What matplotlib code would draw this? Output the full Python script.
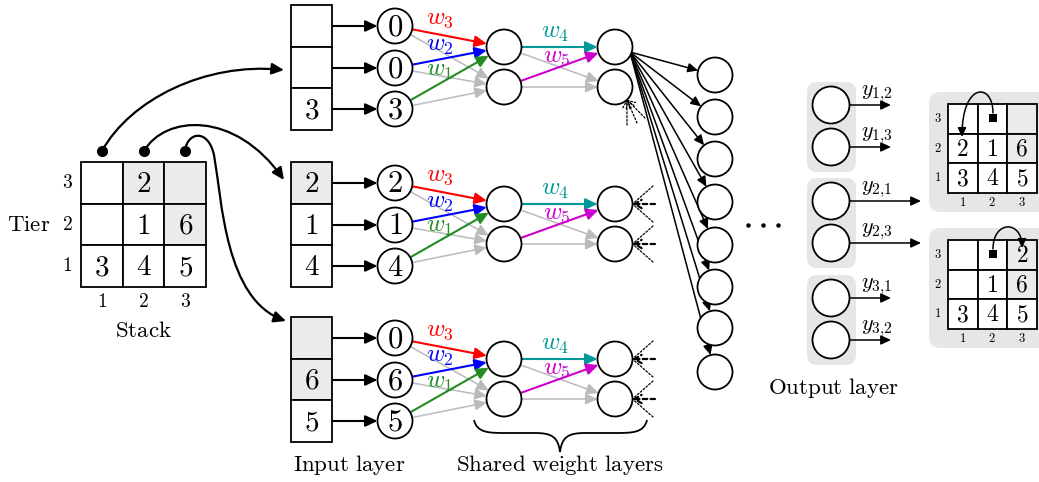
import numpy as np
import matplotlib
matplotlib.use('Agg')
import matplotlib.pyplot as plt
from matplotlib.patches import Circle, Rectangle, FancyArrowPatch, FancyBboxPatch, PathPatch
from matplotlib.path import Path

plt.rcParams['mathtext.fontset'] = 'cm'
plt.rcParams['font.family'] = ['DejaVu Serif']

# ---- data ----
# stack grid, rows = tier 3..1, cols = stack 1..3
stack_values = [[None, 2, None], [None, 1, 6], [3, 4, 5]]
stack_grey = [[0, 1, 1], [0, 0, 1], [0, 0, 0]]
tier_labels = ['3', '2', '1']
stack_labels = ['1', '2', '3']

# one input column per stack (top to bottom)
input_cells = [[None, None, 3], [2, 1, 4], [None, 6, 5]]
input_grey = [[0, 0, 0], [1, 0, 0], [1, 1, 0]]
input_nodes = [[0, 0, 3], [2, 1, 4], [0, 6, 5]]

in_weights = ['w_3', 'w_2', 'w_1']
in_colors = ['#ff0000', '#0000ff', '#228b22']
hid_weights = ['w_4', 'w_5']
hid_colors = ['#009999', '#cc00cc']
n_hidden_out = 8

output_labels = [['y_{1{,}2}', 'y_{1{,}3}'], ['y_{2{,}1}', 'y_{2{,}3}'], ['y_{3{,}1}', 'y_{3{,}2}']]
long_arrow = [[0, 0], [1, 1], [0, 0]]

after1_values = [[None, None, None], [2, 1, 6], [3, 4, 5]]
after1_grey = [[0, 0, 1], [0, 0, 1], [0, 0, 0]]
after2_values = [[None, None, 2], [None, 1, 6], [3, 4, 5]]
after2_grey = [[0, 0, 1], [0, 0, 1], [0, 0, 0]]

GREY = '#ebebeb'
LGREY = '#bbbbbb'
R = 17.5

fig = plt.figure(figsize=(10.39, 4.82), dpi=100)
ax = fig.add_axes([0, 0, 1, 1])
ax.set_xlim(0, 1039)
ax.set_ylim(482, 0)
ax.axis('off')


def tex(s):
  return '$' + s + '$'


def arrow(p0, p1, color='black', lw=1.3, ms=12, style='-|>,head_length=0.6,head_width=0.28', ls='-', z=2):
  ax.add_patch(FancyArrowPatch(p0, p1, arrowstyle=style, mutation_scale=ms, color=color,
                               lw=lw, linestyle=ls, shrinkA=0, shrinkB=0, zorder=z))


def edge(c0, c1, r0=R, r1=R, **kw):
  c0 = np.array(c0, float)
  c1 = np.array(c1, float)
  u = (c1 - c0) / np.hypot(*(c1 - c0))
  arrow(c0 + u * r0, c1 - u * r1, **kw)


def node(c, label=None, r=R, fs=22):
  ax.add_patch(Circle(c, r, facecolor='white', edgecolor='black', lw=1.3, zorder=4))
  if label is not None:
    ax.text(c[0], c[1] + 1, tex(str(label)), fontsize=fs, ha='center', va='center', zorder=5)


def grid(x0, y0, cell, values, grey, fs):
  for i in range(3):
    for j in range(3):
      fc = GREY if grey[i][j] else 'white'
      ax.add_patch(Rectangle((x0 + j * cell, y0 + i * cell), cell, cell, facecolor=fc,
                             edgecolor='black', lw=1.3, zorder=3))
      if values[i][j] is not None:
        ax.text(x0 + (j + 0.5) * cell, y0 + (i + 0.5) * cell + 1, tex(str(values[i][j])),
                fontsize=fs, ha='center', va='center', zorder=5)


# ---- stack grid ----
gx, gy, gc = 81, 162, 41.7
grid(gx, gy, gc, stack_values, stack_grey, 21)
for i, t in enumerate(tier_labels):
  ax.text(67, gy + (i + 0.5) * gc, tex(t), fontsize=14, ha='center', va='center')
for j, s in enumerate(stack_labels):
  ax.text(gx + (j + 0.5) * gc, 302, tex(s), fontsize=14, ha='center', va='center')
ax.text(29, gy + 1.5 * gc, tex(r'\mathrm{Tier}'), fontsize=16.5, ha='center', va='center')
ax.text(gx + 1.5 * gc, 331, tex(r'\mathrm{Stack}'), fontsize=16.5, ha='center', va='center')
dots_x = [gx + (j + 0.5) * gc for j in range(3)]
ax.plot(dots_x, [151] * 3, 'o', color='black', ms=7, zorder=6)

# curved arrows from the stacks to the input columns
curves = [
  [(102, 151), (130, 100), (205, 62), (284, 70)],
  [(144, 151), (165, 115), (235, 110), (284, 180)],
  [(185, 151), (187, 132), (208, 128), (214, 155), (222, 200), (225, 300), (286, 321)],
]
for v in curves:
  codes = [Path.MOVETO] + [Path.CURVE4] * (len(v) - 1)
  ax.add_patch(FancyArrowPatch(path=Path(v, codes), arrowstyle='-|>,head_length=0.6,head_width=0.28',
                               mutation_scale=12, color='black', lw=1.6, zorder=2))

# ---- input columns + shared layers ----
offsets = [0, 157, 312]
bx, bw, bh = 291, 41, 41.7
xin, xh1, xh2 = 395, 504, 615
in_y = [26, 68, 109]
hid_y = [47, 87]
for k, off in enumerate(offsets):
  top = 5 + off
  for i in range(3):
    fc = GREY if input_grey[k][i] else 'white'
    ax.add_patch(Rectangle((bx, top + i * bh), bw, bh, facecolor=fc, edgecolor='black', lw=1.3, zorder=3))
    if input_cells[k][i] is not None:
      ax.text(bx + bw / 2, top + (i + 0.5) * bh + 1, tex(str(input_cells[k][i])), fontsize=21,
              ha='center', va='center', zorder=5)
    yy = in_y[i] + off
    arrow((bx + bw, yy), (xin - R, yy), lw=1.5)
    node((xin, yy), input_nodes[k][i])
  h1 = [(xh1, y + off) for y in hid_y]
  h2 = [(xh2, y + off) for y in hid_y]
  for i in range(3):
    src = (xin, in_y[i] + off)
    edge(src, h1[1], color=LGREY, lw=1.1, z=1)
  for i in range(3):
    src = (xin, in_y[i] + off)
    edge(src, h1[0], color=in_colors[i], lw=1.5, z=2)
  edge(h1[0], h2[1], color=LGREY, lw=1.1, z=1)
  edge(h1[1], h2[1], color=LGREY, lw=1.1, z=1)
  edge(h1[0], h2[0], color=hid_colors[0], lw=1.5, z=2)
  edge(h1[1], h2[0], color=hid_colors[1], lw=1.5, z=2)
  for c in h1 + h2:
    node(c)
  for i, (lx, ly) in enumerate([(440, 18), (440, 45), (440, 70)]):
    ax.text(lx, ly + off, tex(in_weights[i]), fontsize=18, color=in_colors[i], ha='center', va='center', zorder=6)
  for i, (lx, ly) in enumerate([(555, 32), (557, 56)]):
    ax.text(lx, ly + off, tex(hid_weights[i]), fontsize=18, color=hid_colors[i], ha='center', va='center', zorder=6)

# incoming dashed connections at the second shared layer
open_head = '->,head_length=0.5,head_width=0.3'
tip = (615 + R * 0.68, 87 + R * 0.72)
for end in [(627, 125), (637, 123), (645, 118)]:
  arrow(end, tip, lw=0.9, ls=(0, (1.5, 1.5)), style=open_head, ms=10, z=3)
for off in offsets[1:]:
  for y in hid_y:
    yy = y + off
    t = (xh2 + R, yy)
    arrow((655, yy), t, lw=1.6, ls=(0, (2, 1.5)), style=open_head, ms=10, z=3)
    arrow((653, yy - 18), t, lw=0.9, ls=(0, (1.5, 1.5)), style='-', z=3)
    arrow((653, yy + 18), t, lw=0.9, ls=(0, (1.5, 1.5)), style='-', z=3)

# fan to the next layer (all leaving from the right side of the top node)
xf = 715
fan_y = [75, 117, 159, 202, 245, 287, 328, 372]
fan_src = np.array([xh2 + 15, 47 + 5], float)
for y in fan_y[:n_hidden_out]:
  c1 = np.array([xf, y], float)
  u = (c1 - fan_src) / np.hypot(*(c1 - fan_src))
  arrow(tuple(fan_src + u * 2), tuple(c1 - u * R), lw=1.1, ms=10)
  node((xf, y))
ax.plot([748, 763, 778], [225, 225, 225], 'o', color='black', ms=2.2)

# brace under shared layers
x0, x1, yt, ym, xt, ytip = 474, 647, 420, 433, 560, 452
bv = [(x0, yt), (x0 + 3, ym), (x0 + 15, ym), (x0 + 32, ym),
      (xt - 25, ym),
      (xt - 8, ym), (xt - 2, ym + 4), (xt, ytip),
      (xt + 2, ym + 4), (xt + 8, ym), (xt + 25, ym),
      (x1 - 32, ym),
      (x1 - 15, ym), (x1 - 3, ym), (x1, yt)]
bc = [Path.MOVETO, Path.CURVE4, Path.CURVE4, Path.CURVE4, Path.LINETO,
      Path.CURVE4, Path.CURVE4, Path.CURVE4, Path.CURVE4, Path.CURVE4, Path.CURVE4,
      Path.LINETO, Path.CURVE4, Path.CURVE4, Path.CURVE4]
ax.add_patch(PathPatch(Path(bv, bc), fill=False, lw=1.3, edgecolor='black'))
ax.text(349, 465, tex(r'\mathrm{Input\ layer}'), fontsize=16.5, ha='center', va='center')
ax.text(560, 465, tex(r'\mathrm{Shared\ weight\ layers}'), fontsize=16.5, ha='center', va='center')

# ---- output layer ----
xo, ro = 831, 18.5
out_y = [[105, 147], [201, 243], [298, 340]]
boxes = [(82, 172), (178, 268), (275, 365)]
for g in range(3):
  b0, b1 = boxes[g]
  ax.add_patch(FancyBboxPatch((807, b0), 49, b1 - b0, boxstyle='round,pad=0,rounding_size=10',
                              facecolor='#e6e6e6', edgecolor='none', zorder=0))
  for i in range(2):
    y = out_y[g][i]
    node((xo, y), r=ro)
    xe = 921 if long_arrow[g][i] else 891
    arrow((xo + ro, y), (xe, y), lw=1.1, ms=10)
    ax.text(877, y - 12, tex(output_labels[g][i]), fontsize=16, ha='center', va='center')
ax.text(833, 388, tex(r'\mathrm{Output\ layer}'), fontsize=16.5, ha='center', va='center')

# ---- resulting bays ----
sc = 29.5
for (top, vals, grey, src, path) in [
    (104, after1_values, after1_grey, (993, 118), [(993, 113), (993, 82), (962, 82), (962, 137)]),
    (240, after2_values, after2_grey, (993, 254), [(993, 249), (993, 220), (1022, 220), (1022, 248)])]:
  ax.add_patch(FancyBboxPatch((929, top - 12), 120, 120, boxstyle='round,pad=0,rounding_size=12',
                              facecolor='#e6e6e6', edgecolor='none', zorder=0))
  grid(948, top, sc, vals, grey, 17)
  for i, t in enumerate(tier_labels):
    ax.text(938, top + (i + 0.5) * sc, tex(t), fontsize=9, ha='center', va='center')
  for j, s in enumerate(stack_labels):
    ax.text(948 + (j + 0.5) * sc, top + 3 * sc + 10, tex(s), fontsize=9, ha='center', va='center')
  ax.add_patch(Rectangle((src[0] - 4, src[1] - 4), 8, 8, facecolor='black', zorder=6))
  ax.add_patch(FancyArrowPatch(path=Path(path, [Path.MOVETO] + [Path.CURVE4] * 3),
                               arrowstyle='-|>,head_length=0.6,head_width=0.28', mutation_scale=9,
                               color='black', lw=1.1, zorder=7))

fig.savefig('out.png', dpi=100)
